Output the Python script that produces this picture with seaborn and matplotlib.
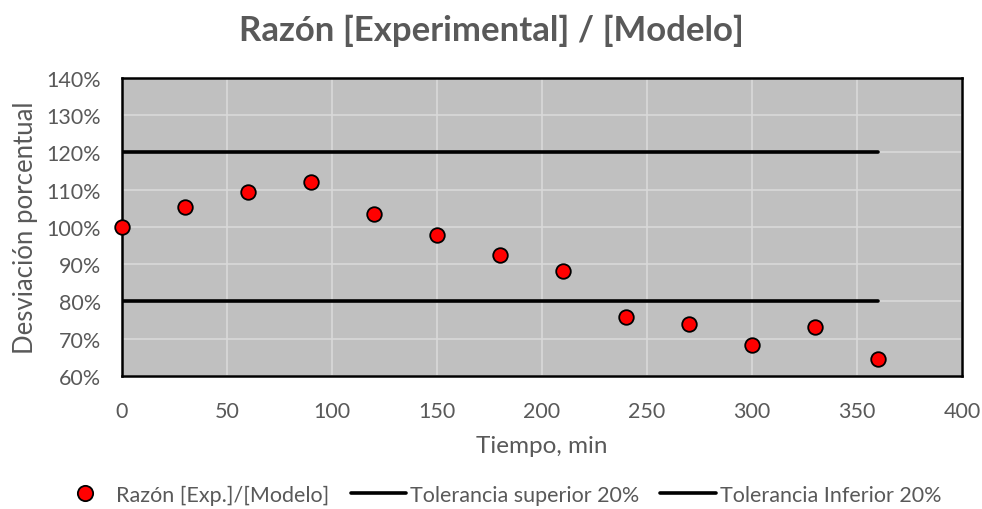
import numpy as np
import pandas as pd
import matplotlib
matplotlib.use("Agg")
import matplotlib.pyplot as plt
import seaborn as sns
from matplotlib.lines import Line2D
from matplotlib.legend_handler import HandlerLine2D
from matplotlib.ticker import PercentFormatter

# Measured ratio experimental/model over time
tiempo_min = [0, 30, 60, 90, 120, 150, 180, 210, 240, 270, 300, 330, 360]
razon_pct = [100, 105.4, 109.4, 112, 103.4, 97.9, 92.4, 88.1, 75.8, 73.9, 68.2, 73.2, 64.5]

# Tolerance band (+/- 20 %)
tol_x = [0, 360]
tol_sup = [120, 120]
tol_inf = [80, 80]

x_ticks = [0, 50, 100, 150, 200, 250, 300, 350, 400]
y_ticks = [60, 70, 80, 90, 100, 110, 120, 130, 140]

sns.set_theme(style="white")
plt.rcParams["font.family"] = ["Lato", "DejaVu Sans"]

TEXT = "#595959"


class MarkerNearText(HandlerLine2D):
    """Legend handler that places a single marker towards the label."""
    def get_xdata(self, legend, xdescent, ydescent, width, height, fontsize):
        xdata, _ = super().get_xdata(legend, xdescent, ydescent, width, height, fontsize)
        return xdata, [-xdescent + 0.72 * width]


fig = plt.figure(figsize=(9.82, 5.10), dpi=100)
ax = fig.add_axes([0.1242, 0.2608, 0.8554, 0.5843])
ax.set_facecolor("#C0C0C0")

df = pd.DataFrame({"t": tiempo_min, "r": razon_pct})
df_tol = pd.DataFrame({"t": tol_x, "sup": tol_sup, "inf": tol_inf})

sns.lineplot(data=df_tol, x="t", y="sup", ax=ax, color="black", lw=2.6,
             solid_capstyle="round", zorder=3)
sns.lineplot(data=df_tol, x="t", y="inf", ax=ax, color="black", lw=2.6,
             solid_capstyle="round", zorder=3)
sns.scatterplot(data=df, x="t", y="r", ax=ax, color="#FF0000", edgecolor="black",
                linewidth=1.3, s=110, zorder=4, clip_on=False)

ax.set_xlim(0, 400)
ax.set_ylim(60, 140)
ax.set_xticks(x_ticks)
ax.set_yticks(y_ticks)
ax.yaxis.set_major_formatter(PercentFormatter(decimals=0))
ax.grid(True, color="#D9D9D9", lw=1.2)
ax.set_axisbelow(True)
for s in ax.spines.values():
    s.set_color("black")
    s.set_linewidth(1.8)
ax.tick_params(axis="both", length=0, labelsize=15.5, colors=TEXT)
ax.tick_params(axis="y", pad=15)
ax.tick_params(axis="x", pad=18)

ax.set_xlabel("Tiempo, min", fontsize=17.5, color=TEXT, labelpad=10)
ax.set_ylabel("Desviación porcentual", fontsize=18.5, color=TEXT, labelpad=6)

fig.suptitle("Razón [Experimental] / [Modelo]", x=0.5, y=0.972,
             fontsize=25, fontweight="bold", color=TEXT)

marker_handle = Line2D([], [], ls="none", marker="o", markersize=11,
                       markerfacecolor="#FF0000", markeredgecolor="black",
                       markeredgewidth=1.3)
handles = [
    marker_handle,
    Line2D([], [], color="black", lw=2.6),
    Line2D([], [], color="black", lw=2.6),
]
labels = ["Razón [Exp.]/[Modelo]", "Tolerancia superior 20%", "Tolerancia Inferior 20%"]
fig.legend(handles, labels, loc="center", bbox_to_anchor=(0.508, 0.028), ncol=3,
           frameon=False, fontsize=15.5, labelcolor=TEXT, handlelength=2.6,
           handletextpad=0.15, columnspacing=1.0,
           handler_map={marker_handle: MarkerNearText(numpoints=1)})

fig.savefig("out.png", dpi=100)
